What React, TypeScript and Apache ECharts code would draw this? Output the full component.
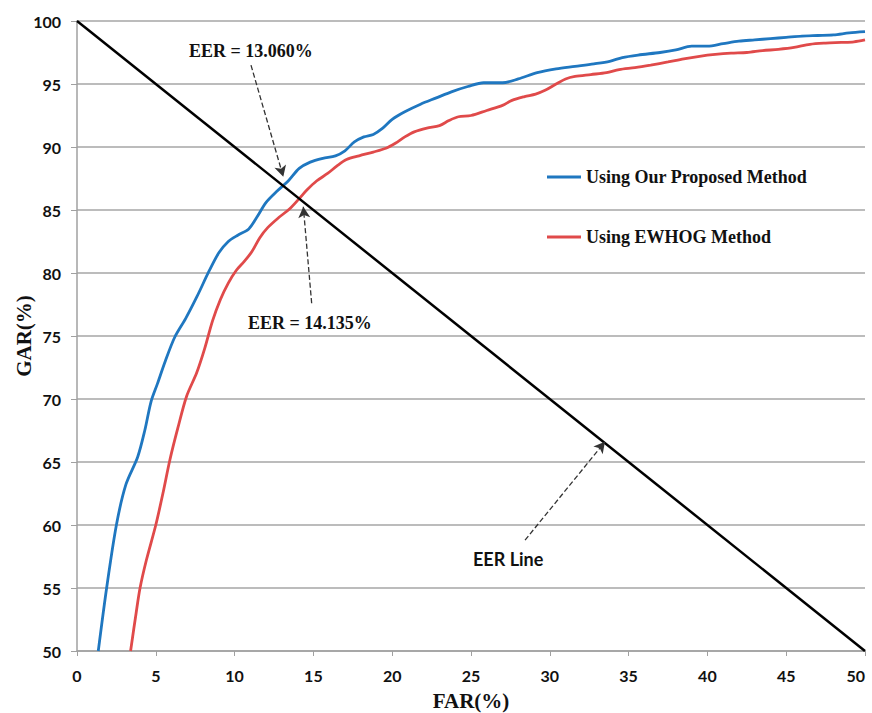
import React, { useEffect, useRef } from "react";
import * as echarts from "echarts";

const xTicks = [0, 5, 10, 15, 20, 25, 30, 35, 40, 45, 50];
const yTicks = [50, 55, 60, 65, 70, 75, 80, 85, 90, 95, 100];

const blueFAR = [1.35, 1.88, 2.5, 3.1, 3.85, 4.3, 4.7, 5.1, 5.6, 6.2, 6.9, 7.6, 8.4, 9.0, 9.6, 10.2, 10.9, 11.4, 12.0, 12.7, 13.4, 14.1, 14.8, 15.6, 16.4, 17.0, 17.6, 18.2, 18.8, 19.4, 20.0, 20.8, 21.8, 22.8, 23.8, 24.8, 25.8, 27.0, 28.0, 29.2, 30.4, 31.6, 32.8, 33.8, 34.6, 35.6, 37.0, 38.0, 39.0, 40.0, 41.0, 42.0, 43.0, 44.0, 45.0, 46.0, 47.0, 48.0, 49.0, 50.0];
const blueGAR = [50, 55, 60, 63.2, 65.4, 67.5, 69.8, 71.2, 73.0, 74.9, 76.4, 78.1, 80.2, 81.6, 82.5, 83.0, 83.5, 84.4, 85.6, 86.5, 87.3, 88.3, 88.8, 89.1, 89.3, 89.7, 90.4, 90.8, 91.0, 91.5, 92.2, 92.8, 93.4, 93.9, 94.4, 94.8, 95.1, 95.1, 95.4, 95.9, 96.2, 96.4, 96.6, 96.8, 97.1, 97.3, 97.5, 97.7, 98.0, 98.0, 98.2, 98.4, 98.5, 98.6, 98.7, 98.8, 98.85, 98.9, 99.05, 99.15];

const redFAR = [3.4, 3.75, 4.0, 4.4, 5.0, 5.45, 5.9, 6.4, 6.95, 7.6, 8.1, 8.6, 9.1, 9.6, 10.1, 10.6, 11.1, 11.6, 12.1, 12.8, 13.5, 14.1, 14.6, 15.2, 15.9, 16.5, 17.1, 17.9, 18.8, 19.6, 20.2, 20.8, 21.4, 22.2, 23.0, 23.6, 24.2, 25.0, 26.0, 27.0, 27.6, 28.4, 29.1, 29.7, 30.4, 31.0, 31.6, 32.6, 33.6, 34.4, 35.4, 36.4, 37.5, 38.5, 39.5, 40.5, 41.5, 42.5, 43.5, 44.5, 45.5, 46.5, 47.5, 48.5, 49.3, 50.0];
const redGAR = [50, 53, 55, 57.2, 60, 62.5, 65.2, 67.7, 70.2, 72.1, 74.0, 76.2, 77.9, 79.2, 80.2, 80.9, 81.7, 82.8, 83.6, 84.4, 85.1, 85.9, 86.6, 87.3, 87.9, 88.5, 89.0, 89.3, 89.6, 89.9, 90.3, 90.8, 91.2, 91.5, 91.7, 92.1, 92.4, 92.5, 92.9, 93.3, 93.7, 94.0, 94.2, 94.5, 95.0, 95.4, 95.6, 95.75, 95.9, 96.15, 96.3, 96.5, 96.75, 97.0, 97.2, 97.35, 97.45, 97.5, 97.65, 97.75, 97.9, 98.15, 98.25, 98.3, 98.35, 98.5];

const eerFAR = [0, 50];
const eerGAR = [100, 50];

const seriesNames = ["Using Our Proposed Method", "Using EWHOG Method"];
const annotationTexts = ["EER = 13.060%", "EER = 14.135%", "EER Line"];
// arrow start/end in data coordinates
const arrow1 = [[11.04, 96.5], [13.09, 87.64]];
const arrow2 = [[14.89, 77.6], [14.36, 85.26]];
const arrow3 = [[28.43, 58.8], [33.5, 66.6]];

const zip = (a: number[], b: number[]) => a.map((v, i) => [v, b[i]]);

const serif = "'Liberation Serif', 'Times New Roman', serif";
const sans = "Lato, 'Open Sans', sans-serif";

export default function App() {
  const ref = useRef<HTMLDivElement>(null);
  useEffect(() => {
    if (!ref.current) return;
    const chart = echarts.init(ref.current, null, { renderer: "svg" });
    const arrowStyle = { type: "dashed" as const, color: "#333", width: 1.3 };
    chart.setOption({
      animation: false,
      backgroundColor: "#fff",
      grid: { left: 77, top: 21, right: 7, bottom: 62, containLabel: false, outerBoundsMode: "none" },
      legend: {
        data: seriesNames,
        orient: "vertical",
        left: 542,
        top: 163,
        icon: "rect",
        itemWidth: 34,
        itemHeight: 3,
        itemGap: 42,
        textStyle: { fontFamily: serif, fontWeight: "bold", fontSize: 18, color: "#111" },
      },
      xAxis: {
        type: "value",
        min: 0,
        max: 50,
        interval: 5,
        name: "FAR(%)",
        nameLocation: "middle",
        nameGap: 39,
        nameTextStyle: { fontFamily: serif, fontWeight: "bold", fontSize: 21, color: "#111" },
        axisLine: { show: true, lineStyle: { color: "#a0a0a0", width: 1.5 } },
        axisTick: { show: true, length: 5, lineStyle: { color: "#a0a0a0" } },
        axisLabel: { fontFamily: sans, fontWeight: "bold", fontSize: 16, color: "#111", margin: 16, alignMaxLabel: "right", formatter: (v: number) => (xTicks.includes(v) ? String(v) : "") },
        splitLine: { show: false },
      },
      yAxis: {
        type: "value",
        min: 50,
        max: 100,
        interval: 5,
        name: "GAR(%)",
        nameLocation: "middle",
        nameGap: 43,
        nameMoveOverlap: false,
        nameTextStyle: { fontFamily: serif, fontWeight: "bold", fontSize: 21, color: "#111" },
        axisLine: { show: true, lineStyle: { color: "#a0a0a0", width: 1.5 } },
        axisTick: { show: true, length: 6, lineStyle: { color: "#a0a0a0" } },
        axisLabel: { fontFamily: sans, fontWeight: "bold", fontSize: 16, color: "#111", margin: 16, formatter: (v: number) => (yTicks.includes(v) ? String(v) : "") },
        splitLine: { show: true, lineStyle: { color: "#a6a6a6", width: 1.5 } },
      },
      series: [
        {
          name: seriesNames[0],
          type: "line",
          data: zip(blueFAR, blueGAR),
          smooth: 0.3,
          symbol: "none",
          lineStyle: { color: "#1f77c0", width: 2.8 },
          itemStyle: { color: "#1f77c0" },
          z: 3,
        },
        {
          name: seriesNames[1],
          type: "line",
          data: zip(redFAR, redGAR),
          smooth: 0.3,
          symbol: "none",
          lineStyle: { color: "#e04a4a", width: 2.8 },
          itemStyle: { color: "#e04a4a" },
          z: 3,
        },
        {
          name: "EER",
          type: "line",
          data: zip(eerFAR, eerGAR),
          symbol: "none",
          lineStyle: { color: "#000", width: 2.5 },
          z: 4,
          markLine: {
            silent: true,
            symbol: ["none", "arrow"],
            symbolSize: [9, 11],
            label: { show: false },
            lineStyle: arrowStyle,
            data: [
              [{ coord: arrow1[0] }, { coord: arrow1[1] }],
              [{ coord: arrow2[0] }, { coord: arrow2[1] }],
              [{ coord: arrow3[0] }, { coord: arrow3[1] }],
            ],
          },
        },
      ],
      graphic: [
        {
          type: "text",
          x: 189,
          y: 51,
          style: { text: annotationTexts[0], font: `bold 18px ${serif}`, fill: "#111", textAlign: "left", verticalAlign: "middle" },
        },
        {
          type: "text",
          x: 248,
          y: 323,
          style: { text: annotationTexts[1], font: `bold 18px ${serif}`, fill: "#111", textAlign: "left", verticalAlign: "middle" },
        },
        {
          type: "text",
          x: 473,
          y: 559,
          style: { text: annotationTexts[2], font: `bold 18px ${sans}`, fill: "#111", textAlign: "left", verticalAlign: "middle" },
        },
      ],
    });
    return () => chart.dispose();
  }, []);
  return <div ref={ref} style={{ position: "fixed", left: 0, top: 0, width: 872, height: 713 }} />;
}
